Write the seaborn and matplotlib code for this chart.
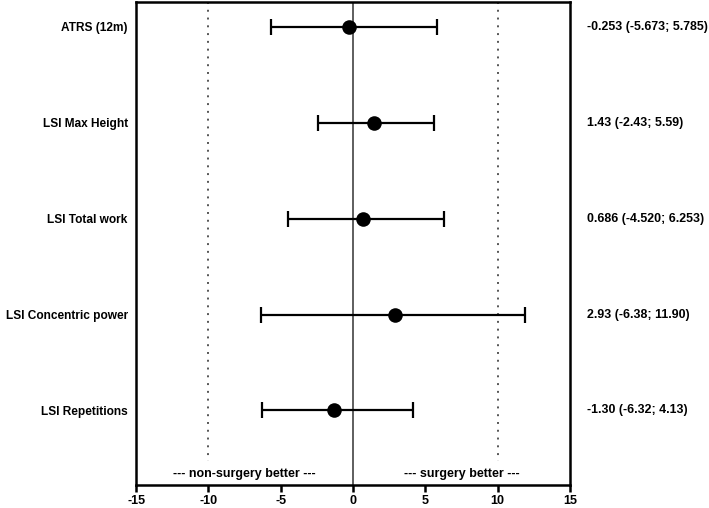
import numpy as np
import pandas as pd
import matplotlib
matplotlib.use("Agg")
import matplotlib.pyplot as plt
import matplotlib.transforms as mtransforms
import seaborn as sns

# dados do forest plot
outcomes = ["ATRS (12m)", "LSI Max Height", "LSI Total work",
            "LSI Concentric power", "LSI Repetitions"]
estimate = [-0.253, 1.43, 0.686, 2.93, -1.30]
ci_low = [-5.673, -2.43, -4.520, -6.38, -6.32]
ci_high = [5.785, 5.59, 6.253, 11.90, 4.13]
ci_text = ["-0.253 (-5.673; 5.785)", "1.43 (-2.43; 5.59)", "0.686 (-4.520; 6.253)",
           "2.93 (-6.38; 11.90)", "-1.30 (-6.32; 4.13)"]
x_ticks = [-15, -10, -5, 0, 5, 10, 15]

df = pd.DataFrame({"outcome": outcomes, "est": estimate, "lo": ci_low, "hi": ci_high})
df["pos"] = np.arange(len(df))

sns.set_style("white")
plt.rcParams["font.family"] = ["Liberation Sans", "DejaVu Sans"]
plt.rcParams["font.weight"] = "bold"
plt.rcParams["text.color"] = "black"
plt.rcParams["xtick.color"] = "black"
plt.rcParams["ytick.color"] = "black"

fig = plt.figure(figsize=(7.09, 5.08), dpi=100)
ax = fig.add_axes([0.192, 0.045, 0.612, 0.951])

ymin, ymax = -0.26, 4.78
# linhas de referencia
ax.axvline(0, color="#333333", lw=1.1, zorder=1)
for xv in (-10, 10):
    ax.plot([xv, xv], [ymin, 4.53], color="#555555", lw=1.4, ls=(0, (1, 3)), zorder=1)

ax.errorbar(df["est"], df["pos"], xerr=[df["est"] - df["lo"], df["hi"] - df["est"]],
            fmt="none", ecolor="black", elinewidth=1.6, capsize=5.5, capthick=1.6, zorder=2)
sns.scatterplot(data=df, x="est", y="pos", color="black", s=110, edgecolor="black",
                linewidth=0, zorder=3, ax=ax, legend=False)

ax.set_xlim(-15, 15)
ax.set_ylim(ymax, ymin)
ax.set_xticks(x_ticks)
ax.set_xticklabels([str(t) for t in x_ticks], fontweight="bold", fontsize=9)
ax.set_yticks(df["pos"])
ax.set_yticklabels(outcomes, fontweight="bold", fontsize=8.6)
ax.tick_params(axis="x", direction="out", length=5, width=1.8, bottom=True, pad=2)
ax.tick_params(axis="y", length=0, pad=6)
ax.set_xlabel("")
ax.set_ylabel("")
for sp in ax.spines.values():
    sp.set_visible(True)
    sp.set_linewidth(1.8)
    sp.set_color("black")

ax.text(-7.5, 4.66, "--- non-surgery better ---", ha="center", va="center",
        fontsize=9, fontweight="bold")
ax.text(7.5, 4.66, "--- surgery better ---", ha="center", va="center",
        fontsize=9, fontweight="bold")

trans = mtransforms.blended_transform_factory(ax.transAxes, ax.transData)
for p, t in zip(df["pos"], ci_text):
    ax.text(1.038, p, t, transform=trans, ha="left", va="center",
            fontsize=8.9, fontweight="bold")

fig.savefig("out.png", dpi=100)
